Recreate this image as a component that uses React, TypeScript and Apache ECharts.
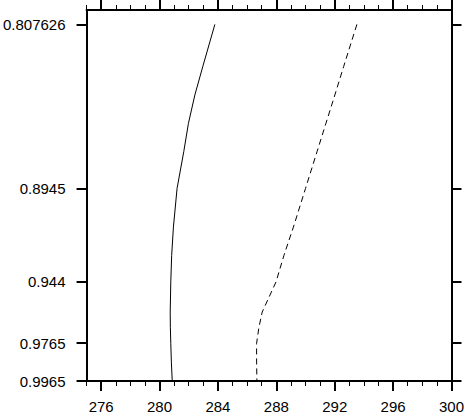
import React, { useEffect, useRef } from "react";
import * as echarts from "echarts";

// y levels (vertical coordinate, axis inverted)
const levels = [0.807626, 0.83, 0.845, 0.86, 0.875, 0.8945, 0.915, 0.93, 0.944, 0.96, 0.968, 0.9765, 0.9865, 0.9965];
// solid profile values
const solidValues = [283.79, 282.96, 282.42, 281.98, 281.66, 281.2, 280.95, 280.83, 280.77, 280.73, 280.74, 280.77, 280.81, 280.87];
// dashed profile values
const dashedValues = [293.52, 292.61, 292.01, 291.4, 290.79, 290.0, 289.17, 288.52, 287.98, 287.03, 286.81, 286.65, 286.65, 286.67];
// tick labels
const xTicks = [276, 280, 284, 288, 292, 296, 300];
const yTicks = [0.807626, 0.8945, 0.944, 0.9765, 0.9965];

export default function App() {
  const ref = useRef<HTMLDivElement>(null);
  useEffect(() => {
    if (!ref.current) return;
    const chart = echarts.init(ref.current, null, { renderer: "svg" });
    const font = { fontFamily: "Liberation Sans", fontSize: 15, color: "#000" };
    const lineStyle = { color: "#000", width: 2 };
    const majorX = (pos: string, showLabel: boolean) => ({
      type: "value",
      position: pos,
      min: 275,
      max: 300,
      axisLine: { show: true, onZero: false, lineStyle },
      axisTick: { show: true, inside: false, length: 10, customValues: xTicks, lineStyle: { color: "#000", width: 2 } },
      axisLabel: { show: showLabel, customValues: xTicks, margin: 18, ...font },
      splitLine: { show: false },
    });
    const minorX = (pos: string) => ({
      type: "value",
      position: pos,
      min: 275,
      max: 300,
      interval: 1,
      axisLine: { show: false, onZero: false },
      axisTick: { show: true, inside: false, length: 5, lineStyle: { color: "#000", width: 1 } },
      axisLabel: { show: false },
      splitLine: { show: false },
    });
    const yAx = (pos: string, showLabel: boolean) => ({
      type: "value",
      position: pos,
      inverse: true,
      min: 0.8,
      max: 0.9965,
      axisLine: { show: true, onZero: false, lineStyle },
      axisTick: { show: true, inside: false, length: 10, customValues: yTicks, lineStyle: { color: "#000", width: 2 } },
      axisLabel: { show: showLabel, customValues: yTicks, margin: 21, formatter: (v: number) => String(v), ...font },
      splitLine: { show: false },
    });
    chart.setOption({
      animation: false,
      backgroundColor: "#fff",
      grid: { left: 83, right: 14, top: 10, bottom: 34, containLabel: false },
      xAxis: [majorX("bottom", true), minorX("bottom"), majorX("top", false), minorX("top")],
      yAxis: [yAx("left", true), yAx("right", false)],
      series: [
        {
          type: "line",
          xAxisIndex: 0,
          yAxisIndex: 0,
          data: levels.map((l, i) => [solidValues[i], l]),
          showSymbol: false,
          symbol: "none",
          lineStyle: { color: "#000", width: 1, type: "solid" },
        },
        {
          type: "line",
          xAxisIndex: 0,
          yAxisIndex: 0,
          data: levels.map((l, i) => [dashedValues[i], l]),
          showSymbol: false,
          symbol: "none",
          lineStyle: { color: "#000", width: 1, type: [6, 4] },
        },
      ],
    });
    return () => chart.dispose();
  }, []);
  return <div ref={ref} style={{ position: "fixed", left: 0, top: 0, width: 467, height: 415 }} />;
}
